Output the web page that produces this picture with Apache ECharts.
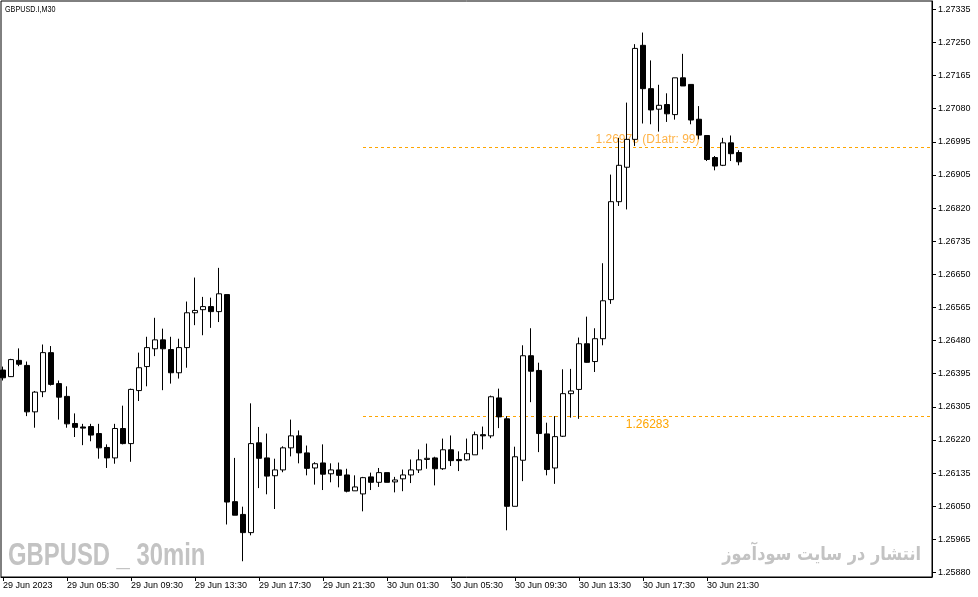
<!DOCTYPE html>
<html><head><meta charset="utf-8">
<script src="https://cdn.jsdelivr.net/npm/echarts@6/dist/echarts.min.js"></script>
<style>html,body{margin:0;padding:0;background:#fff}#c{width:978px;height:597px}</style>
</head><body><div id="c"></div>
<script>
// 30-minute candles, GBPUSD, 29 Jun 2023 01:30 -> 30 Jun 23:30
const openVals  = [1.26403,1.26386,1.26428,1.26415,1.26295,1.26347,1.26448,1.26368,1.26335,1.26265,
  1.26256,1.26257,1.26239,1.26203,1.26176,1.26252,1.26213,1.26350,1.26412,1.26458,
  1.26481,1.26456,1.26396,1.26461,1.26551,1.26559,1.26567,1.26554,1.26598,1.26063,
  1.26030,1.25983,1.26215,1.26176,1.26130,1.26145,1.26202,1.26233,1.26189,1.26150,
  1.26163,1.26135,1.26145,1.26132,1.26091,1.26083,1.26127,1.26113,1.26138,1.26114,
  1.26122,1.26132,1.26145,1.26172,1.26176,1.26148,1.26197,1.26172,1.26171,1.26184,
  1.26236,1.26233,1.26331,1.26277,1.26051,1.26170,1.26440,1.26402,1.26238,1.26150,
  1.26232,1.26342,1.26353,1.26471,1.26425,1.26484,1.26585,1.26838,1.26927,1.26999,
  1.27242,1.27130,1.27077,1.27089,1.27063,1.27158,1.27141,1.27051,1.27009,1.26952,
  1.26932,1.26990,1.26965];
const closeVals = [1.26383,1.26430,1.26418,1.26295,1.26346,1.26448,1.26366,1.26333,1.26264,1.26255,
  1.26253,1.26235,1.26202,1.26176,1.26252,1.26213,1.26353,1.26409,1.26461,1.26481,
  1.26458,1.26396,1.26461,1.26551,1.26557,1.26567,1.26554,1.26600,1.26062,1.26028,
  1.25983,1.26213,1.26175,1.26129,1.26145,1.26202,1.26233,1.26189,1.26149,1.26161,
  1.26134,1.26145,1.26131,1.26090,1.26101,1.26125,1.26113,1.26138,1.26113,1.26119,
  1.26132,1.26145,1.26171,1.26175,1.26148,1.26197,1.26169,1.26169,1.26187,1.26236,
  1.26233,1.26334,1.26282,1.26051,1.26179,1.26440,1.26400,1.26239,1.26146,1.26231,
  1.26342,1.26349,1.26471,1.26423,1.26484,1.26582,1.26838,1.26932,1.26999,1.27234,
  1.27130,1.27075,1.27087,1.27065,1.27158,1.27137,1.27049,1.27010,1.26947,1.26930,
  1.26990,1.26962,1.26941];
const lowVals   = [1.26376,1.26385,1.26413,1.26284,1.26254,1.26333,1.26363,1.26275,1.26254,1.26230,
  1.26209,1.26219,1.26174,1.26150,1.26161,1.26211,1.26166,1.26323,1.26361,1.26439,
  1.26351,1.26368,1.26381,1.26409,1.26519,1.26493,1.26512,1.26527,1.26004,1.26028,
  1.25909,1.25976,1.26098,1.26082,1.26044,1.26139,1.26180,1.26162,1.26131,1.26107,
  1.26093,1.26113,1.26100,1.26087,1.26091,1.26038,1.26093,1.26101,1.26113,1.26087,
  1.26090,1.26111,1.26137,1.26148,1.26105,1.26145,1.26155,1.26142,1.26169,1.26184,
  1.26198,1.26227,1.26253,1.25989,1.26051,1.26116,1.26320,1.26191,1.26131,1.26109,
  1.26230,1.26280,1.26277,1.26422,1.26398,1.26467,1.26574,1.26827,1.26818,1.26982,
  1.27040,1.27038,1.27019,1.27044,1.27050,1.27137,1.27038,1.26999,1.26943,1.26919,
  1.26930,1.26943,1.26932];
const highVals  = [1.26412,1.26432,1.26459,1.26425,1.26349,1.26469,1.26465,1.26376,1.26361,1.26291,
  1.26264,1.26264,1.26264,1.26211,1.26264,1.26311,1.26355,1.26448,1.26489,1.26538,
  1.26510,1.26489,1.26484,1.26580,1.26642,1.26592,1.26590,1.26667,1.26598,1.26176,
  1.26050,1.26317,1.26256,1.26239,1.26174,1.26206,1.26275,1.26247,1.26208,1.26165,
  1.26211,1.26162,1.26164,1.26148,1.26131,1.26127,1.26138,1.26150,1.26138,1.26127,
  1.26146,1.26172,1.26198,1.26213,1.26179,1.26226,1.26234,1.26193,1.26226,1.26244,
  1.26257,1.26337,1.26355,1.26284,1.26205,1.26467,1.26511,1.26422,1.26267,1.26284,
  1.26405,1.26406,1.26487,1.26541,1.26511,1.26679,1.26908,1.27003,1.27094,1.27245,
  1.27275,1.27203,1.27140,1.27118,1.27158,1.27220,1.27141,1.27085,1.27009,1.26956,
  1.27003,1.27009,1.26971];

const xTickIndex  = [0, 8, 16, 24, 32, 40, 48, 56, 64, 72, 80, 88];
const xTickLabels = ["29 Jun 2023","29 Jun 05:30","29 Jun 09:30","29 Jun 13:30","29 Jun 17:30","29 Jun 21:30",
  "30 Jun 01:30","30 Jun 05:30","30 Jun 09:30","30 Jun 13:30","30 Jun 17:30","30 Jun 21:30"];
const yTickLabels = ["1.25880","1.25965","1.26050","1.26135","1.26220","1.26305","1.26395","1.26480","1.26565",
  "1.26650","1.26735","1.26820","1.26905","1.26995","1.27080","1.27165","1.27250","1.27335"];

const levelValues = [1.26978, 1.26283];
const levelLabels = ["1.26978 (D1atr: 99)", "1.26283"];
const levelStartIndex = 45;

const chart = echarts.init(document.getElementById('c'), null, {renderer: 'canvas'});
const candleData = openVals.map((o, i) => [i, o, closeVals[i], lowVals[i], highVals[i]]);
const yLo = parseFloat(yTickLabels[0]);
const yHi = parseFloat(yTickLabels[yTickLabels.length - 1]);
const yStep = (yHi - yLo) / (yTickLabels.length - 1);
const yTickValues = yTickLabels.map((_, j) => yLo + j * yStep);
const xMin = -0.25, xMax = 116.125;
const font = '"Liberation Sans", Arial, sans-serif';

const option = {
  animation: false,
  backgroundColor: '#fff',
  grid: {left: 1, right: 46, top: 1, bottom: 20, show: true, borderColor: '#000', borderWidth: 1,
         backgroundColor: '#fff', containLabel: false, outerBoundsMode: 'none'},
  xAxis: {
    type: 'value', min: xMin, max: xMax,
    axisLine: {show: true, onZero: false, lineStyle: {color: '#000', width: 1}},
    axisTick: {show: true, length: 4, inside: false, customValues: xTickIndex, lineStyle: {color: '#000'}},
    axisLabel: {show: true, customValues: xTickIndex, align: 'left', margin: 4, color: '#000',
      fontSize: 9, fontFamily: font, hideOverlap: false,
      formatter: v => xTickLabels[xTickIndex.indexOf(Math.round(v))] || ''},
    splitLine: {show: false}
  },
  yAxis: {
    type: 'value', position: 'right', min: 1.2586834, max: 1.2735649,
    axisLine: {show: true, onZero: false, lineStyle: {color: '#000', width: 1}},
    axisTick: {show: true, length: 4, inside: false, customValues: yTickValues, lineStyle: {color: '#000'}},
    axisLabel: {show: true, customValues: yTickValues, margin: 6, color: '#000', fontSize: 9, fontFamily: font,
      hideOverlap: false,
      formatter: v => yTickLabels[Math.round((v - yLo) / yStep)] || ''},
    splitLine: {show: false}
  },
  series: [
    {
      type: 'line', data: [], z: 1, silent: true,
      markLine: {
        silent: true, symbol: 'none', z: 1, animation: false,
        lineStyle: {color: '#FFA500', width: 1, type: [3, 3]},
        data: [
          [{coord: [levelStartIndex, levelValues[0]],
            label: {show: true, formatter: levelLabels[0], position: 'insideMiddleTop', distance: 2,
                    color: '#FFB347', fontSize: 12, fontFamily: font}},
           {coord: [xMax, levelValues[0]]}],
          [{coord: [levelStartIndex, levelValues[1]],
            label: {show: true, formatter: levelLabels[1], position: 'insideMiddleBottom', distance: 2,
                    color: '#FFA500', fontSize: 12, fontFamily: font}},
           {coord: [xMax, levelValues[1]]}]
        ]
      }
    },
    {
      type: 'candlestick', z: 3,
      dimensions: ['idx', 'open', 'close', 'lowest', 'highest'],
      encode: {x: 0, y: [1, 2, 3, 4]},
      data: candleData,
      barWidth: 5,
      itemStyle: {color: '#fff', color0: '#000', borderColor: '#000', borderColor0: '#000',
                  borderColorDoji: '#000', borderWidth: 1}
    }
  ],
  graphic: [
    {type: 'text', x: 5, y: 10, scaleX: 0.8, z: 10,
     style: {text: 'GBPUSD.I,M30', font: '9px ' + font, fill: '#000', verticalAlign: 'middle'}},
    {type: 'text', x: 8, y: 556, scaleX: 0.745, z: 0,
     style: {text: 'GBPUSD _ 30min', font: 'bold 32px ' + font, fill: '#c3c3c3', verticalAlign: 'middle'}},
    {type: 'text', x: 921, y: 555, scaleX: 0.85, z: 0,
     style: {text: 'انتشار در سایت سودآموز', font: 'bold 19px "DejaVu Sans", sans-serif', fill: '#c3c3c3',
             align: 'right', verticalAlign: 'middle'}}
  ]
};
chart.setOption(option);
</script></body></html>
